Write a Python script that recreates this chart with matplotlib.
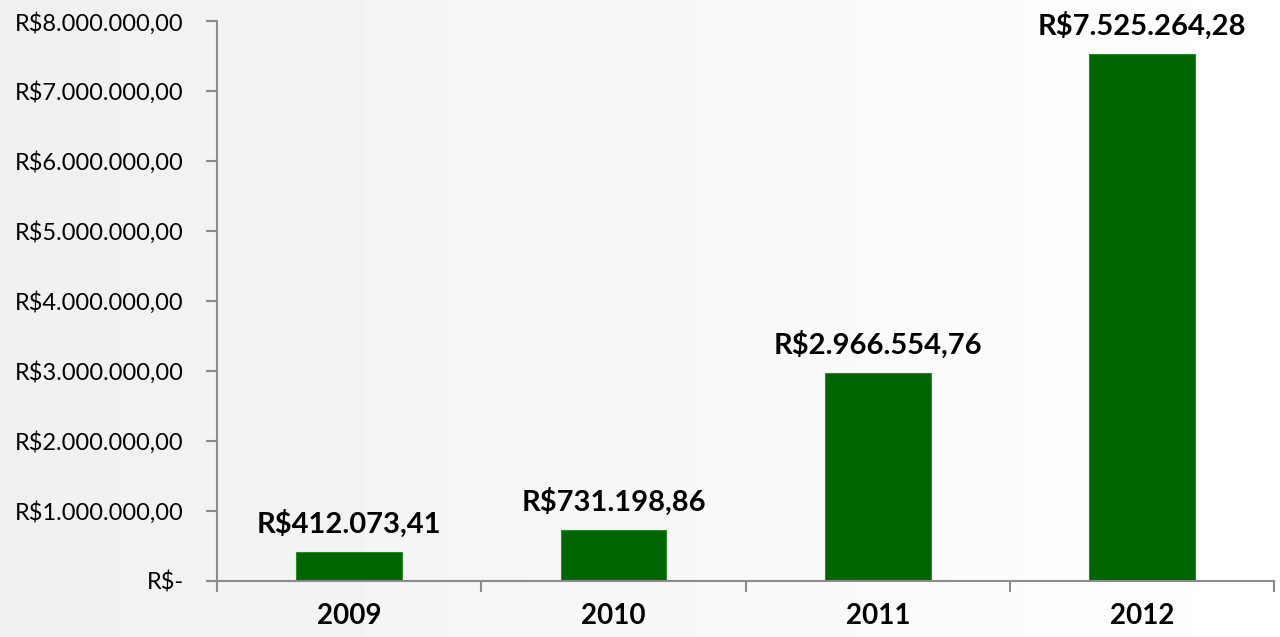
import numpy as np
import matplotlib.pyplot as plt
from matplotlib.ticker import FuncFormatter

years = ['2009', '2010', '2011', '2012']
values = [412073.41, 731198.86, 2966554.76, 7525264.28]
labels = ['R$412.073,41', 'R$731.198,86', 'R$2.966.554,76', 'R$7.525.264,28']

plt.rcParams['font.family'] = ['Lato', 'DejaVu Sans']


def brl(v, pos=None):
    if v == 0:
        return 'R$-'
    s = f'{v:,.2f}'
    s = s.replace(',', 'X').replace('.', ',').replace('X', '.')
    return 'R$' + s


fig = plt.figure(figsize=(12.8, 6.37), dpi=100)

# soft grey background fading to white
bg = fig.add_axes([0, 0, 1, 1], zorder=-1)
grad = np.linspace(0.94, 1.0, 256)[None, :]
bg.imshow(grad, aspect='auto', cmap='gray', vmin=0, vmax=1, extent=[0, 1, 0, 1])
bg.axis('off')

ax = fig.add_axes([0.1695, 0.088, 0.826, 0.879])
ax.patch.set_alpha(0)

x = np.arange(len(years))
ax.bar(x, values, width=0.4, color='#006400', edgecolor='#2a8a2a', linewidth=0.8)

for xi, v, lab in zip(x, values, labels):
    ax.text(xi, v + 200000, lab, ha='center', va='bottom',
            fontsize=21, fontweight='bold', color='black')

ax.set_xlim(-0.5, 3.5)
ax.set_ylim(0, 8000000)
ax.set_yticks(np.arange(0, 8000001, 1000000))
ax.yaxis.set_major_formatter(FuncFormatter(brl))
ax.set_xticks(x)
ax.set_xticklabels(years, fontsize=20, fontweight='bold')
ax.set_xticks(np.arange(-0.5, 4, 1), minor=True)

for side in ['top', 'right']:
    ax.spines[side].set_visible(False)
for side in ['left', 'bottom']:
    ax.spines[side].set_color('#8c8c8c')
    ax.spines[side].set_linewidth(1.5)

ax.tick_params(axis='y', direction='out', length=8, width=1.5, color='#8c8c8c',
               labelsize=17, pad=16)
ax.tick_params(axis='x', which='major', length=0, pad=16)
ax.tick_params(axis='x', which='minor', direction='out', length=8, width=1.5,
               color='#8c8c8c')

fig.savefig('out.png', dpi=100)
